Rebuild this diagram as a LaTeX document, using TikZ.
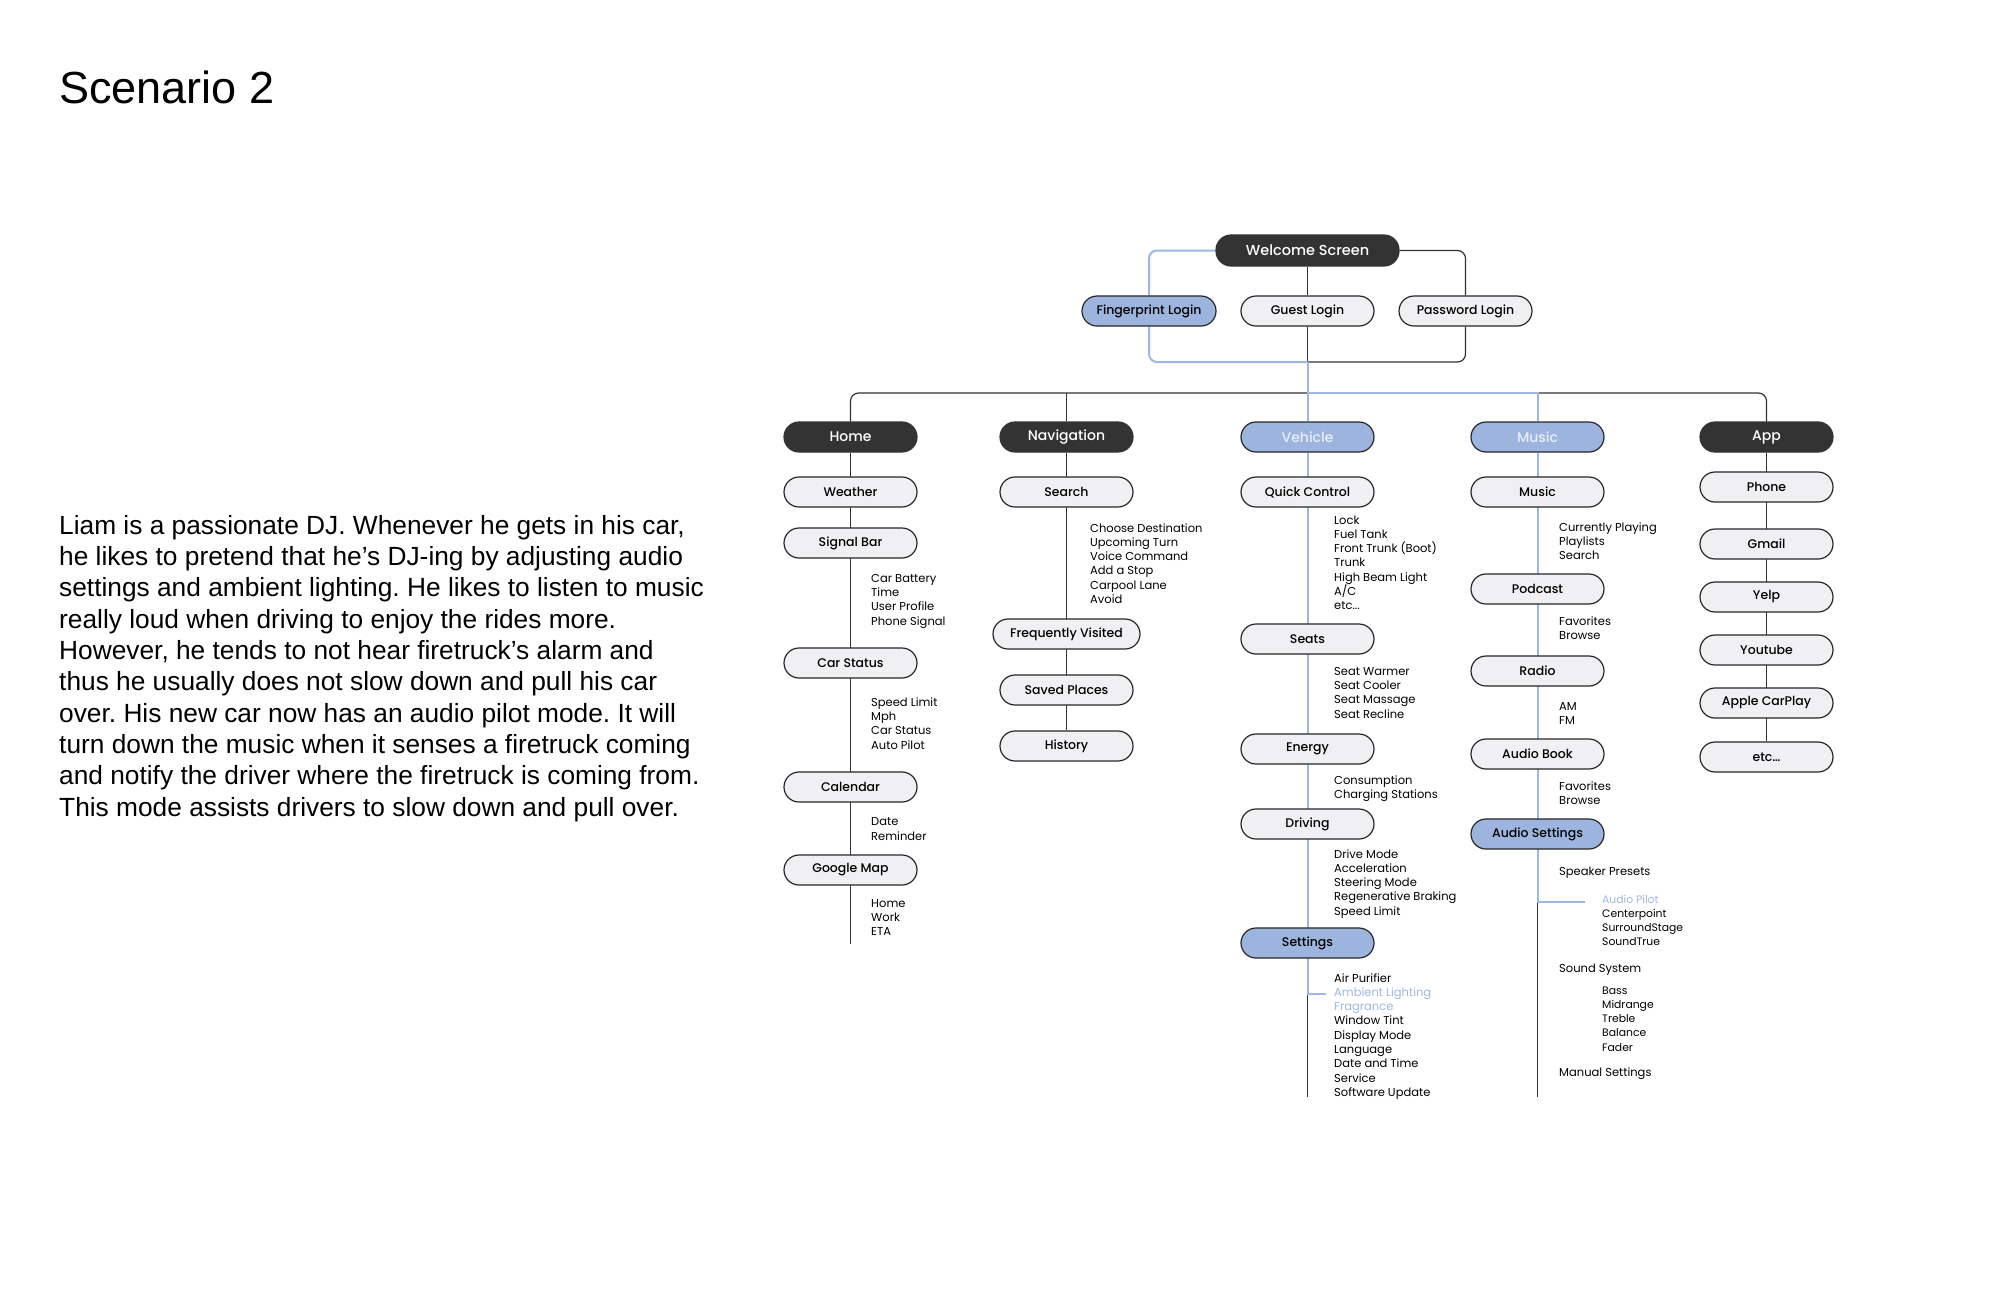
\documentclass[tikz,border=0pt]{standalone}
\usepackage{fontspec}
\setmainfont{Poppins}
\newfontfamily\boxfont{Poppins Medium}
\newfontfamily\parafont{Liberation Sans}
\usetikzlibrary{backgrounds}
\definecolor{darkbox}{RGB}{51,51,51}
\definecolor{lightbox}{RGB}{240,240,243}
\definecolor{bluebox}{RGB}{157,181,222}
\definecolor{blueline}{RGB}{157,183,227}
\definecolor{paletext}{RGB}{232,238,250}
\frenchspacing

\begin{document}
\begin{tikzpicture}[x=1pt, y=-1pt,
    topbox/.style={rectangle, rounded corners=15pt, draw=darkbox, fill=darkbox, line width=1.2pt, minimum width=133pt, minimum height=30pt, inner sep=0pt, text=white, font=\boxfont\fontsize{14}{16}\selectfont},
    subbox/.style={topbox, draw=black!85, fill=lightbox, text=black, font=\boxfont\fontsize{12.5}{15}\selectfont},
    selbox/.style={subbox, fill=bluebox},
    seltop/.style={topbox, draw=black!85, fill=bluebox, text=paletext},
    items/.style={anchor=base west, align=left, inner sep=0pt, font=\fontsize{11.5}{14.3}\selectfont},
    smallitems/.style={items, font=\fontsize{10.8}{14.3}\selectfont},
    link/.style={line width=1.2pt, darkbox},
    bluelink/.style={line width=2pt, blueline}
]
    \useasboundingbox (0,0) rectangle (2000,1294);

    % scenario text (base = last line)
    \node[anchor=base west, inner sep=0pt, font=\parafont\fontsize{45}{50}\selectfont] (title) at (59,103) {Scenario 2};
    \node[anchor=base west, inner sep=0pt, align=left, font=\parafont\fontsize{26.3}{31.3}\selectfont] (story) at (59,816) {Liam is a passionate DJ. Whenever he gets in his car,\\he likes to pretend that he’s DJ-ing by adjusting audio\\settings and ambient lighting. He likes to listen to music\\really loud when driving to enjoy the rides more.\\However, he tends to not hear firetruck’s alarm and\\thus he usually does not slow down and pull his car\\over. His new car now has an audio pilot mode. It will\\turn down the music when it senses a firetruck coming\\and notify the driver where the firetruck is coming from.\\This mode assists drivers to slow down and pull over.};

    % login
    \node[topbox, minimum width=183pt, minimum height=31pt, font=\boxfont\fontsize{14.5}{16}\selectfont] (welcome) at (1307.5,250.5) {Welcome Screen};
    \node[selbox, minimum width=134pt] (fplogin) at (1149,311) {Fingerprint Login};
    \node[subbox] (guestlogin) at (1307.5,311) {Guest Login};
    \node[subbox] (pwlogin) at (1465.5,311) {Password Login};
    \coordinate (loginjoin) at (1307.5,362);
    \coordinate (bus) at (1307.5,393);

    % main menu
    \node[topbox] (home) at (850.5,437) {Home};
    \node[topbox] (nav) at (1066.5,437) {Navigation};
    \node[seltop] (vehicle) at (1307.5,437) {Vehicle};
    \node[seltop] (music) at (1537.5,437) {Music};
    \node[topbox] (app) at (1766.5,437) {App};

    % home
    \node[subbox] (weather) at (850.5,492) {Weather};
    \node[subbox] (signalbar) at (850.5,543) {Signal Bar};
    \node[items] (signalitems) at (871,625) {Car Battery\\Time\\User Profile\\Phone Signal};
    \node[subbox] (carstatus) at (850.5,663) {Car Status};
    \node[items] (statusitems) at (871,749) {Speed Limit\\Mph\\Car Status\\Auto Pilot};
    \node[subbox] (calendar) at (850.5,787) {Calendar};
    \node[items] (calitems) at (871,840) {Date\\Reminder};
    \node[subbox] (gmap) at (850.5,870) {Google Map};
    \node[items] (mapitems) at (871,935.6) {Home\\Work\\ETA};
    \coordinate (homeend) at (850.5,944);

    % navigation
    \node[subbox] (search) at (1066.5,492) {Search};
    \node[items] (searchitems) at (1090,603.5) {Choose Destination\\Upcoming Turn\\Voice Command\\Add a Stop\\Carpool Lane\\Avoid};
    \node[subbox, minimum width=147pt] (freqvisited) at (1066.5,634) {Frequently Visited};
    \node[subbox] (saved) at (1066.5,690) {Saved Places};
    \node[subbox] (history) at (1066.5,746) {History};

    % vehicle
    \node[subbox] (quick) at (1307.5,492) {Quick Control};
    \node[items] (quickitems) at (1334,609.8) {Lock\\Fuel Tank\\Front Trunk (Boot)\\Trunk\\High Beam Light\\A/C\\etc...};
    \node[subbox] (seats) at (1307.5,639) {Seats};
    \node[items] (seatitems) at (1334,718) {Seat Warmer\\Seat Cooler\\Seat Massage\\Seat Recline};
    \node[subbox] (energy) at (1307.5,749) {Energy};
    \node[items] (energyitems) at (1334,798.3) {Consumption\\Charging Stations};
    \node[subbox] (driving) at (1307.5,824) {Driving};
    \node[items] (drivingitems) at (1334,915.2) {Drive Mode\\Acceleration\\Steering Mode\\Regenerative Braking\\Speed Limit};
    \node[selbox] (settings) at (1307.5,943) {Settings};
    \node[items] (settingitems) at (1334,1096.4) {Air Purifier\\\textcolor{blueline}{Ambient Lighting}\\\textcolor{blueline}{Fragrance}\\Window Tint\\Display Mode\\Language\\Date and Time\\Service\\Software Update};
    \coordinate (vblueend) at (1307.5,994);
    \coordinate (vstub) at (1326,994);
    \coordinate (vehend) at (1307.5,1097);

    % music
    \node[subbox] (musicsub) at (1537.5,492) {Music};
    \node[items] (musicitems) at (1559,559.6) {Currently Playing\\Playlists\\Search};
    \node[subbox] (podcast) at (1537.5,589) {Podcast};
    \node[items] (podcastitems) at (1559,639.3) {Favorites\\Browse};
    \node[subbox] (radio) at (1537.5,671) {Radio};
    \node[items] (radioitems) at (1559,724.3) {AM\\FM};
    \node[subbox] (audiobook) at (1537.5,754) {Audio Book};
    \node[items] (bookitems) at (1559,804.3) {Favorites\\Browse};
    \node[selbox] (audiosettings) at (1537.5,834) {Audio Settings};
    \node[items] (presets) at (1559,875) {Speaker Presets};
    \node[smallitems] (presetitems) at (1602,945.9) {\textcolor{blueline}{Audio Pilot}\\Centerpoint\\SurroundStage\\SoundTrue};
    \node[items] (soundsystem) at (1559,972) {Sound System};
    \node[smallitems] (sounditems) at (1602,1051.2) {Bass\\Midrange\\Treble\\Balance\\Fader};
    \node[items] (manual) at (1559,1076) {Manual Settings};
    \coordinate (mblueend) at (1537.5,902);
    \coordinate (mstub) at (1585,902);
    \coordinate (musend) at (1537.5,1097);

    % app
    \foreach \y/\name/\label in {487/phone/Phone, 544/gmail/Gmail, 597/yelp/Yelp, 650/youtube/Youtube, 703/carplay/Apple CarPlay, 757/appetc/etc\ldots}
        \node[subbox] (\name) at (1766.5,\y) {\label};

    \begin{scope}[on background layer]
        \draw[link] (welcome) -- (guestlogin);
        \draw[link, rounded corners=8pt] (welcome.east) -| (pwlogin.north);
        \draw[link, rounded corners=8pt] (pwlogin.south) |- (loginjoin);
        \draw[link] (guestlogin) -- (loginjoin);
        \draw[link, rounded corners=8pt] (home.north) |- (bus) -| (app.north);
        \draw[link] (nav.north) -- (nav.north |- bus);
        \draw[link] (home.south) -- (homeend);
        \draw[link] (nav.south) -- (history.north);
        \draw[link] (vblueend) -- (vehend);
        \draw[link] (mblueend) -- (musend);
        \draw[link] (app.south) -- (appetc.north);
        % selected path
        \draw[bluelink, rounded corners=8pt] (welcome.west) -| (fplogin.north);
        \draw[bluelink, rounded corners=8pt] (fplogin.south) |- (loginjoin);
        \draw[bluelink] (loginjoin) -- (vehicle.north);
        \draw[bluelink] (bus) -| (music.north);
        \draw[bluelink] (vehicle.south) -- (vblueend) -- (vstub);
        \draw[bluelink] (music.south) -- (mblueend) -- (mstub);
    \end{scope}
\end{tikzpicture}
\end{document}
